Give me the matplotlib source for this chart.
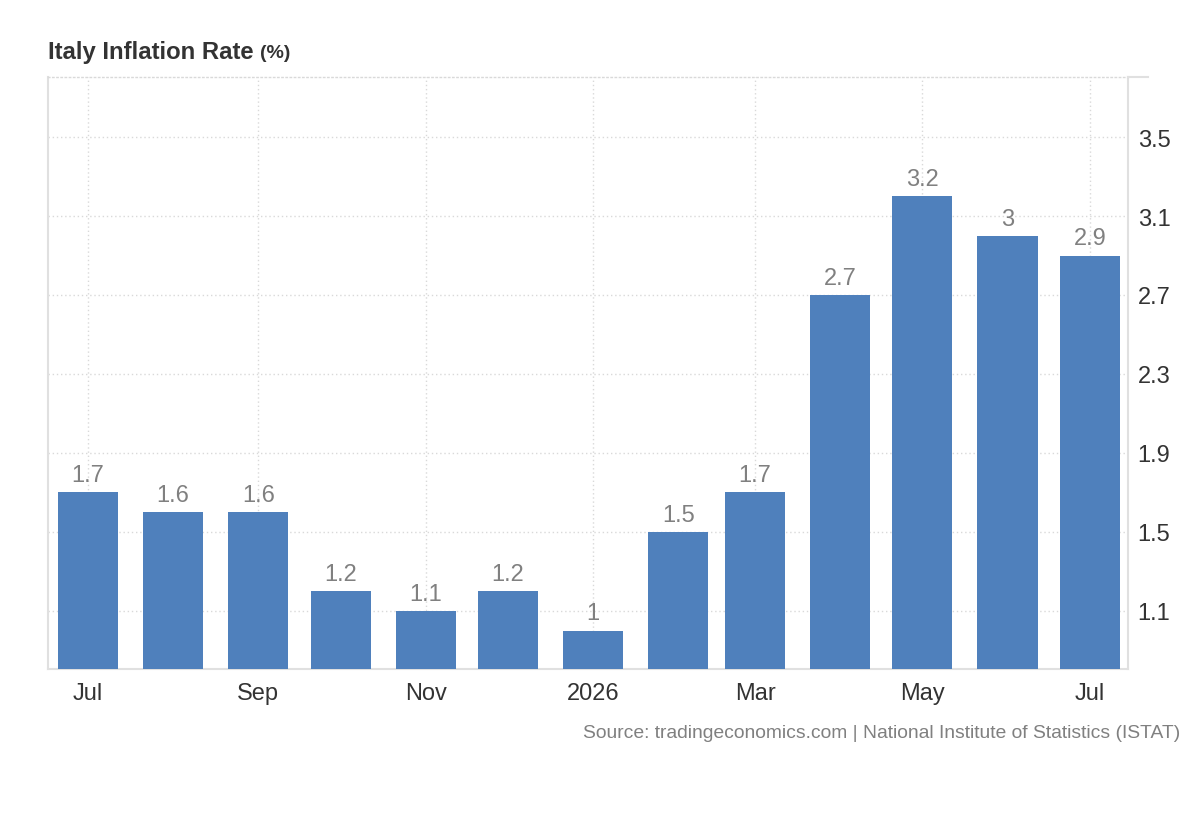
import matplotlib
matplotlib.use("Agg")
import matplotlib.pyplot as plt
import datetime as dt

plt.rcParams['font.family'] = ['Liberation Sans', 'DejaVu Sans']

months = ["2025-07-01", "2025-08-01", "2025-09-01", "2025-10-01", "2025-11-01",
          "2025-12-01", "2026-01-01", "2026-02-01", "2026-03-01", "2026-04-01",
          "2026-05-01", "2026-06-01", "2026-07-01"]
values = [1.7, 1.6, 1.6, 1.2, 1.1, 1.2, 1.0, 1.5, 1.7, 2.7, 3.2, 3.0, 2.9]
value_labels = ["1.7", "1.6", "1.6", "1.2", "1.1", "1.2", "1", "1.5", "1.7", "2.7", "3.2", "3", "2.9"]
tick_dates = ["2025-07-01", "2025-09-01", "2025-11-01", "2026-01-01", "2026-03-01", "2026-05-01", "2026-07-01"]
tick_labels = ["Jul", "Sep", "Nov", "2026", "Mar", "May", "Jul"]
y_ticks = [1.1, 1.5, 1.9, 2.3, 2.7, 3.1, 3.5]

dates = [dt.datetime.strptime(d, "%Y-%m-%d") for d in months]
tdates = [dt.datetime.strptime(d, "%Y-%m-%d") for d in tick_dates]

fig = plt.figure(figsize=(12, 8.2), dpi=100)
ax = fig.add_axes([0.04, 0.1829, 0.90, 0.722])

bar_color = "#4f80bc"
ax.bar(dates, values, width=21.9, color=bar_color, zorder=3)

for d, v, lab in zip(dates, values, value_labels):
    ax.annotate(lab, (d, v), xytext=(0, 4.5), textcoords="offset points",
                ha="center", va="bottom", fontsize=17, color="#808080", zorder=4)

ax.set_xlim(dates[0] - dt.timedelta(days=14.6), dates[-1] + dt.timedelta(days=13.9))
ax.set_ylim(0.806, 3.804)

ax.set_xticks(tdates)
ax.set_xticklabels(tick_labels)
ax.set_yticks(y_ticks)
ax.set_yticklabels([f"{t:.1f}" for t in y_ticks])
ax.yaxis.tick_right()

ax.tick_params(axis="x", length=0, pad=9.5, labelsize=17, labelcolor="#333333")
ax.tick_params(axis="y", length=0, pad=7, labelsize=17, labelcolor="#333333")

ax.grid(True, which="major", linestyle=(0, (1, 2)), color="#d9d9d9", linewidth=1, zorder=0)
ax.set_axisbelow(True)

for s in ["left", "right", "bottom"]:
    ax.spines[s].set_color("#e0e0e0")
    ax.spines[s].set_linewidth(1.5)
ax.spines["top"].set_visible(True)
ax.spines["top"].set_color("#d9d9d9")
ax.spines["top"].set_linestyle((0, (1, 2)))
ax.spines["top"].set_linewidth(1)

# small extension of the top line past the right axis
fig.add_artist(plt.Line2D([1128/1200, 1148/1200], [1-78/820, 1-78/820],
                          color="#e0e0e0", linewidth=1.5, transform=fig.transFigure))

fig.text(48/1200, 1-52/820, "Italy Inflation Rate", fontsize=17.2, fontweight="bold",
         color="#333333", ha="left", va="center")
fig.text(260/1200, 1-53/820, "(%)", fontsize=14, fontweight="bold",
         color="#333333", ha="left", va="center")

fig.text(1180/1200, 1-734/820,
         "Source: tradingeconomics.com | National Institute of Statistics (ISTAT)",
         fontsize=13.9, color="#808080", ha="right", va="center")

fig.savefig("out.png", dpi=100)
